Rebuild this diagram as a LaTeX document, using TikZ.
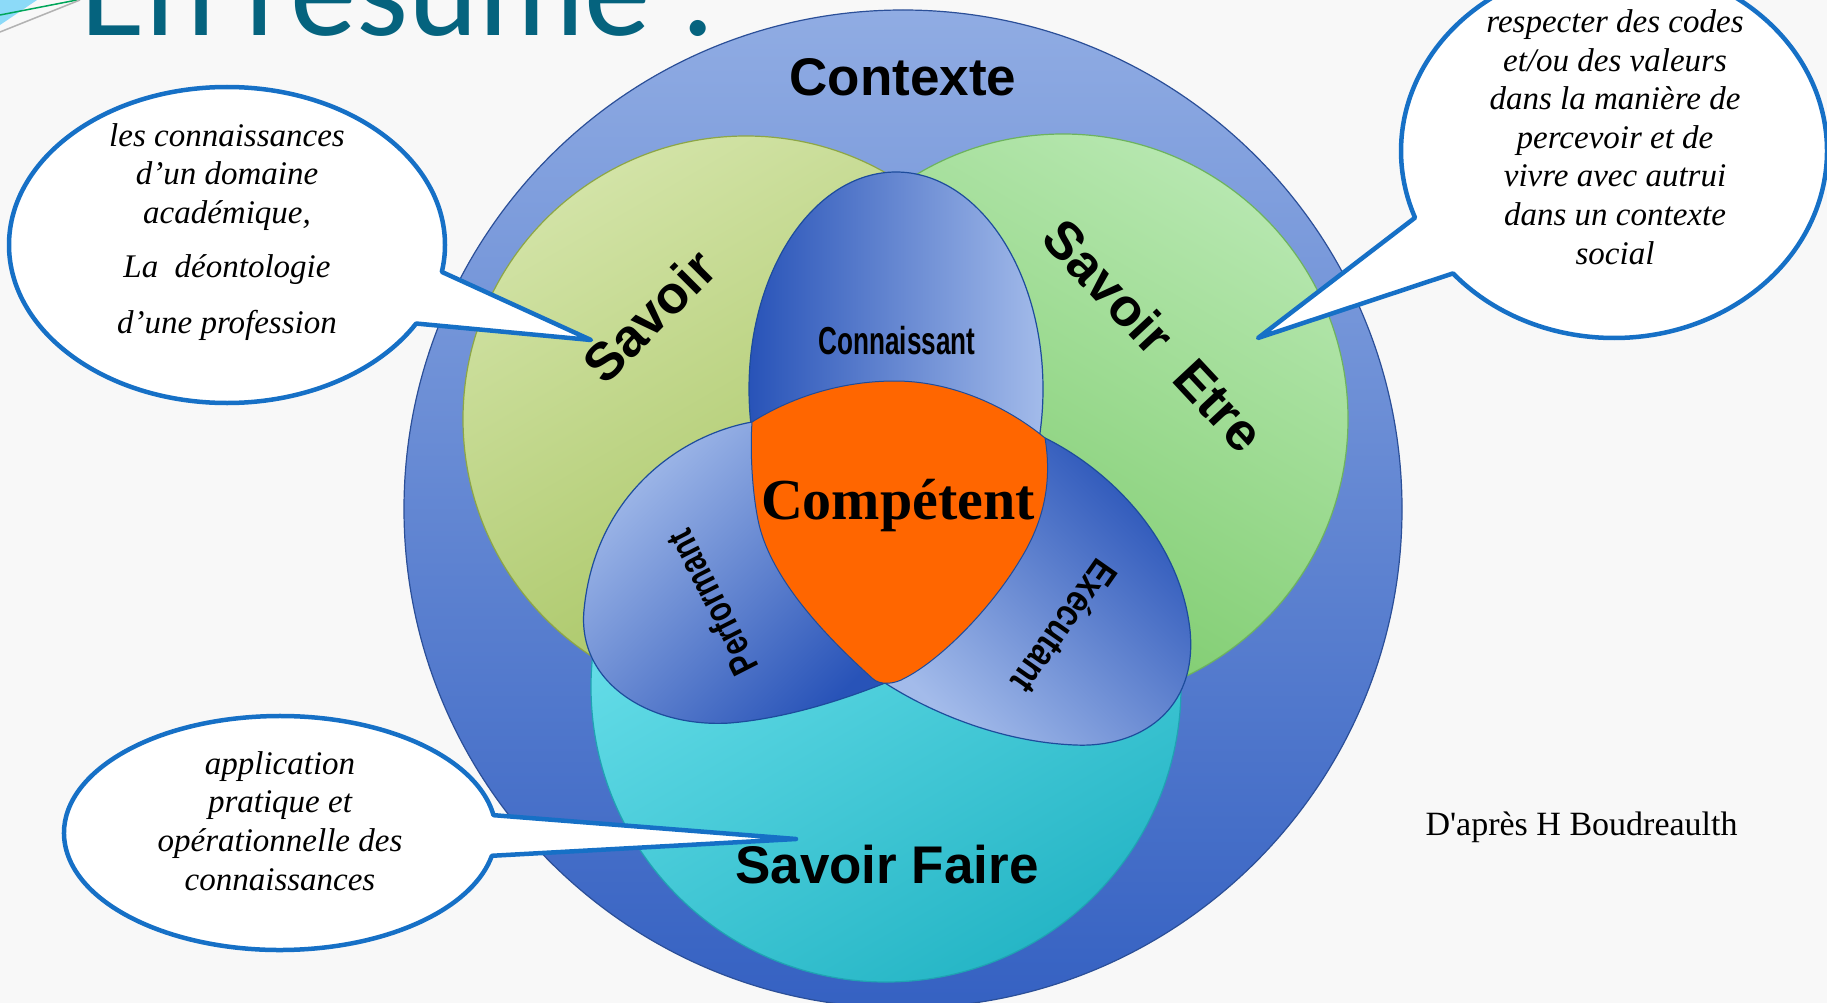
\documentclass[tikz,border=0pt]{standalone}
\usepackage{fontspec}
\setmainfont{Liberation Serif}
\setsansfont{Liberation Sans}
\newfontfamily\titlefont{Carlito}
\usetikzlibrary{shapes.callouts}

\definecolor{pagebg}{HTML}{F8F8F8}
\definecolor{titleteal}{HTML}{05637E}
\definecolor{ctxtop}{HTML}{90ACE3}
\definecolor{ctxbot}{HTML}{3561C2}
\definecolor{ctxline}{HTML}{2B4F98}
\definecolor{savtop}{HTML}{D2E3A6}
\definecolor{savbot}{HTML}{A2C15A}
\definecolor{savline}{HTML}{8DA646}
\definecolor{etrtop}{HTML}{B6E7AF}
\definecolor{etrbot}{HTML}{76C865}
\definecolor{etrline}{HTML}{6DB35E}
\definecolor{faitop}{HTML}{74E6F0}
\definecolor{faibot}{HTML}{26B6C6}
\definecolor{failine}{HTML}{1FA3B3}
\definecolor{petdark}{HTML}{2853B8}
\definecolor{petlight}{HTML}{A3BBEA}
\definecolor{petline}{HTML}{1D4C9C}
\definecolor{competent}{HTML}{FF6600}
\definecolor{bubline}{HTML}{1670C6}

\tikzset{
    zone/.style={line width=1.2pt},
    petal/.style={draw=petline, line width=1.2pt},
    biglab/.style={font=\fontsize{53}{60}\selectfont\sffamily\bfseries},
    petlab/.style={font=\fontsize{39}{42}\selectfont\sffamily\bfseries},
    bubble/.style={ellipse callout, draw=bubline, line width=4.5pt, fill=white,
        callout pointer arc=20, line join=round},
    bubtext/.style={align=center, font=\fontsize{33}{38.6}\selectfont\itshape},
}

\begin{document}
\begin{tikzpicture}[x=1pt, y=-1pt]
    \useasboundingbox (0,0) rectangle (1827,1003);
    \clip (0,0) rectangle (1827,1003);
    \fill[pagebg] (0,0) rectangle (1827,1003);
    % title and corner swoosh
    \fill[cyan!45] (0,0) -- (37,0) -- (0,25) -- cycle;
    \draw[teal!70!green, line width=1.5pt] (0,15) -- (77,0);
    \draw[gray!60, line width=1.5pt] (0,32) -- (80,0);
    \node[anchor=base west, text=titleteal, font=\fontsize{133}{140}\selectfont\titlefont] (title) at (77,36) {En résumé :};

    % the circles
    \shade[zone, draw=ctxline, top color=ctxtop, bottom color=ctxbot] (903,509) circle [radius=499];
    \shade[zone, draw=failine, top color=faitop, bottom color=faibot, shading angle=30] (886,687) circle [radius=295];
    \shade[zone, draw=savline, top color=savtop, bottom color=savbot, shading angle=30] (746,419) circle [radius=283];
    \shade[zone, draw=etrline, top color=etrtop, bottom color=etrbot, shading angle=-30] (1063,419) circle [radius=285];

    % petals
    \shade[petal, top color=petdark, bottom color=petlight, shading angle=90] (896,389) ellipse [x radius=147, y radius=217];
    \shade[petal, top color=petdark, bottom color=petlight, shading angle=-45] (1045,438)
        .. controls (1110,470) and (1180,540) .. (1190,630)
        .. controls (1198,710) and (1140,748) .. (1075,745)
        .. controls (1000,742) and (930,712) .. (885,683) -- (900,560) -- cycle;
    \shade[petal, top color=petlight, bottom color=petdark, shading angle=45] (752,422)
        .. controls (680,435) and (595,495) .. (584,610)
        .. controls (577,683) and (650,728) .. (730,723)
        .. controls (790,718) and (850,697) .. (885,683) -- (900,560) -- cycle;
    \filldraw[competent, draw=petline, line width=1pt] (752,422)
        .. controls (790,398) and (840,381) .. (895,381)
        .. controls (950,381) and (1005,405) .. (1045,438)
        .. controls (1052,480) and (1045,520) .. (1020,560)
        .. controls (990,610) and (940,660) .. (905,678)
        .. controls (895,684) and (880,686) .. (872,678)
        .. controls (830,640) and (770,580) .. (758,520)
        .. controls (752,490) and (750,450) .. cycle;

    % labels
    \node[biglab, anchor=base] (contexte) at (903,96) {Contexte};
    \node[biglab, rotate=45] (savoir) at (649,316) {Savoir};
    \node[biglab, rotate=-47] (etre) at (1154,335) {Savoir~~Etre};
    \node[biglab, anchor=base] (faire) at (887,883) {Savoir Faire};
    \node[petlab, xscale=0.67] (conn) at (897,341) {Connaissant};
    \node[rotate=117, petlab, xscale=0.75] (perf) at (712,603) {Performant};
    \node[rotate=-125, petlab, xscale=0.82] (exec) at (1065,627) {Exécutant};
    \node[anchor=base, font=\fontsize{58}{60}\selectfont\bfseries] (comp) at (898,519) {Compétent};
    \node[anchor=base west, font=\fontsize{34}{40}\selectfont] (source) at (1422,835) {D\textquotesingle après H Boudreaulth};

    % bubbles
    \coordinate (tipsav) at (591,340);
    \coordinate (tipetre) at (1258,338);
    \coordinate (tipfaire) at (796,839);
    \node[bubble, minimum width=436pt, minimum height=316pt, callout absolute pointer={(tipsav)}] (bubsav) at (227,245) {};
    \node[bubble, minimum width=426pt, minimum height=374pt, callout absolute pointer={(tipetre)}] (bubetre) at (1614,151) {};
    \node[bubble, minimum width=432pt, minimum height=234pt, callout absolute pointer={(tipfaire)}] (bubfaire) at (280,833) {};
    \node[bubtext] (txtsav) at (227,232) {les connaissances\\d’un domaine\\académique,\\[15pt]La~ déontologie\\[18pt]d’une profession};
    \node[bubtext] (txtetre) at (1615,137) {respecter des codes\\et/ou des valeurs\\dans la manière de\\percevoir et de\\vivre avec autrui\\dans un contexte\\social};
    \node[bubtext] (txtfaire) at (280,821) {application\\pratique et\\opérationnelle des\\connaissances};
\end{tikzpicture}
\end{document}
